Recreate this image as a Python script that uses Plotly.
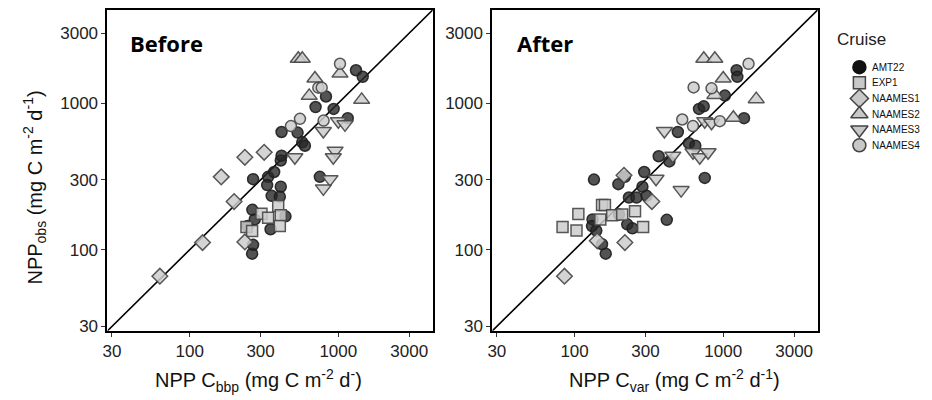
import plotly.graph_objects as go

# ---------------- data ----------------
cruises = ["AMT22", "EXP1", "NAAMES1", "NAAMES2", "NAAMES3", "NAAMES4"]

# Before panel: x = NPP C_bbp, y = NPP obs
before_amt22_x = [263, 267, 264, 245, 274, 267, 337, 370, 332, 356, 410, 404, 350, 441, 410, 415, 415, 532, 572, 596, 703, 826, 930, 1157, 1315, 1459, 751]
before_amt22_y = [94, 108, 187, 145, 161, 303, 314, 339, 276, 233, 269, 230, 138, 169, 406, 438, 635, 629, 540, 512, 940, 1109, 912, 789, 1675, 1510, 314]
before_exp1_x = [241, 263, 304, 337, 394, 410, 404]
before_exp1_y = [143, 134, 176, 165, 199, 172, 145]
before_naames1_x = [63, 122, 199, 163, 235, 317, 235]
before_naames1_y = [66, 112, 213, 314, 427, 462, 113]
before_naames2_x = [538, 572, 696, 637, 1026, 1435]
before_naames2_y = [2005, 2005, 1472, 1120, 1589, 1052]
before_naames3_x = [510, 793, 951, 925, 879, 793, 1000, 1109]
before_naames3_y = [427, 645, 474, 427, 303, 262, 753, 716]
before_naames4_x = [1026, 552, 480, 733, 773, 796]
before_naames4_y = [1854, 781, 697, 1274, 1274, 760]

# After panel: x = NPP C_var, y = NPP obs
after_amt22_x = [135, 132, 131, 140, 153, 162, 197, 218, 199, 226, 245, 232, 261, 286, 294, 305, 368, 434, 417, 495, 588, 649, 687, 739, 751, 1026, 1230, 1244, 1380]
after_amt22_y = [301, 161, 145, 135, 109, 94, 280, 314, 174, 149, 140, 227, 227, 269, 339, 233, 434, 400, 160, 635, 533, 512, 912, 950, 309, 1125, 1675, 1510, 789]
after_exp1_x = [83, 103, 106, 153, 160, 149, 179, 209, 255, 289]
after_exp1_y = [143, 135, 175, 202, 202, 161, 172, 174, 183, 143]
after_naames1_x = [85.5, 218, 142, 215, 331]
after_naames1_y = [66, 112, 115, 322, 213]
after_naames2_x = [740, 878, 1000, 878, 1170, 1667]
after_naames2_y = [2005, 2005, 1472, 1137, 794, 1064]
after_naames3_x = [402, 353, 521, 458, 626, 695, 791, 751, 834]
after_naames3_y = [645, 305, 255, 438, 462, 427, 462, 753, 735]
after_naames4_x = [632, 834, 530, 626, 948, 1480]
after_naames4_y = [1279, 1261, 773, 697, 753, 1854]

tick_vals = [30, 100, 300, 1000, 3000]
tick_text = ["30", "100", "300", "1000", "3000"]
one_to_one = [10, 10000]

# ---------------- styles ----------------
W, H = 924, 392          # page body adds an 8px margin -> fills 932x400 window
OFF = 8


def px(xpix):
    return (xpix - OFF) / W


def py(ypix):
    return 1 - (ypix - OFF) / H


symbols = {"AMT22": "circle", "EXP1": "square", "NAAMES1": "diamond",
           "NAAMES2": "triangle-up", "NAAMES3": "triangle-down", "NAAMES4": "circle"}
sizes = {"AMT22": 11, "EXP1": 11, "NAAMES1": 12, "NAAMES2": 14, "NAAMES3": 14, "NAAMES4": 11}
leg_sizes = {"AMT22": 13, "EXP1": 12, "NAAMES1": 14, "NAAMES2": 15, "NAAMES3": 15, "NAAMES4": 13}
light = "rgba(205,205,205,0.85)"
fills = {"AMT22": "rgba(40,40,40,0.8)", "EXP1": light, "NAAMES1": light,
         "NAAMES2": light, "NAAMES3": light, "NAAMES4": light}
edges = {"AMT22": "rgba(30,30,30,0.9)"}

before = {"AMT22": (before_amt22_x, before_amt22_y), "EXP1": (before_exp1_x, before_exp1_y),
          "NAAMES1": (before_naames1_x, before_naames1_y), "NAAMES2": (before_naames2_x, before_naames2_y),
          "NAAMES3": (before_naames3_x, before_naames3_y), "NAAMES4": (before_naames4_x, before_naames4_y)}
after = {"AMT22": (after_amt22_x, after_amt22_y), "EXP1": (after_exp1_x, after_exp1_y),
         "NAAMES1": (after_naames1_x, after_naames1_y), "NAAMES2": (after_naames2_x, after_naames2_y),
         "NAAMES3": (after_naames3_x, after_naames3_y), "NAAMES4": (after_naames4_x, after_naames4_y)}

fig = go.Figure()
for xa, ya in [("x", "y"), ("x2", "y2")]:
    fig.add_trace(go.Scatter(x=one_to_one, y=one_to_one, mode="lines", xaxis=xa, yaxis=ya,
                             line=dict(color="black", width=1.6), showlegend=False, hoverinfo="skip"))

for panel, data, xa, ya in [("before", before, "x", "y"), ("after", after, "x2", "y2")]:
    for c in cruises:
        xs, ys = data[c]
        fig.add_trace(go.Scatter(
            x=xs, y=ys, mode="markers", name=c, legendgroup=c,
            showlegend=False, xaxis=xa, yaxis=ya,
            marker=dict(symbol=symbols[c], size=sizes[c], color=fills[c],
                        line=dict(color=edges.get(c, "rgba(70,70,70,0.9)"), width=1.5))))

# custom legend (compact spacing like the reference)
for c in cruises:
    fig.add_trace(go.Scatter(
        x=[0], y=[c], mode="markers", name=c,
        xaxis="x3", yaxis="y3", showlegend=False, hoverinfo="skip", cliponaxis=False,
        marker=dict(symbol=symbols[c], size=leg_sizes[c],
                    color="#111" if c == "AMT22" else "#c8c8c8",
                    line=dict(color="#111" if c == "AMT22" else "#444", width=1.5))))
    fig.add_annotation(text=c, x=0.13, y=c, xref="x3", yref="y3", xanchor="left", yanchor="middle",
                       showarrow=False, font=dict(family="Liberation Sans, Arial", size=10, color="#111"))

tick_font = dict(family="Liberation Sans, Arial", size=17, color="#222")
ax_common = dict(type="log", range=[1.447, 3.635], tickvals=tick_vals, ticktext=tick_text,
                 showline=True, mirror=True, linewidth=2, linecolor="black",
                 ticks="outside", ticklen=4, tickwidth=1, tickcolor="#333",
                 showgrid=False, zeroline=False, tickfont=tick_font)

fig.update_layout(
    width=W, height=H, margin=dict(l=0, r=0, t=0, b=0),
    plot_bgcolor="white", paper_bgcolor="white",
    xaxis=dict(domain=[px(103), px(430)], anchor="y", **ax_common),
    yaxis=dict(domain=[py(335), py(10)], anchor="x", **ax_common),
    xaxis2=dict(domain=[px(490), px(817)], anchor="y2", **ax_common),
    yaxis2=dict(domain=[py(335), py(10)], anchor="x2", **ax_common),
    xaxis3=dict(domain=[px(850), px(930)], anchor="y3", range=[-0.1125, 0.8875], visible=False),
    yaxis3=dict(domain=[py(155), py(60)], anchor="x3", type="category", categoryorder="array",
                categoryarray=cruises, range=[5.5, -0.5], autorange=False, visible=False),
    showlegend=False,
)

label_font = dict(family="Liberation Sans, Arial", size=20, color="#111")
fig.add_annotation(text="NPP C<sub>bbp</sub> (mg C m<sup>-2</sup> d<sup>-</sup>)", xref="paper", yref="paper",
                   x=px(255), y=py(385), xanchor="center", yanchor="middle", showarrow=False, font=label_font)
fig.add_annotation(text="NPP C<sub>var</sub> (mg C m<sup>-2</sup> d<sup>-1</sup>)", xref="paper", yref="paper",
                   x=px(673), y=py(385), xanchor="center", yanchor="middle", showarrow=False, font=label_font)
fig.add_annotation(text="NPP<sub>obs</sub> (mg C m<sup>-2</sup> d<sup>-1</sup>)", xref="paper", yref="paper",
                   x=px(30), y=py(190), xanchor="center", yanchor="middle", showarrow=False, textangle=-90,
                   font=dict(family="Liberation Sans, Arial", size=20, color="#111"))
fig.add_annotation(text="Cruise", xref="paper", yref="paper", x=px(834), y=py(40),
                   xanchor="left", yanchor="middle", showarrow=False,
                   font=dict(family="Liberation Sans, Arial", size=17, color="#222"))
title_font = dict(family="Open Sans, Lato, sans-serif", size=22, color="black")
fig.add_annotation(text="<b>Before</b>", xref="paper", yref="paper", x=px(124), y=py(43),
                   xanchor="left", yanchor="middle", showarrow=False, font=title_font)
fig.add_annotation(text="<b>After</b>", xref="paper", yref="paper", x=px(513), y=py(43),
                   xanchor="left", yanchor="middle", showarrow=False, font=title_font)

fig.write_html("out.html")
